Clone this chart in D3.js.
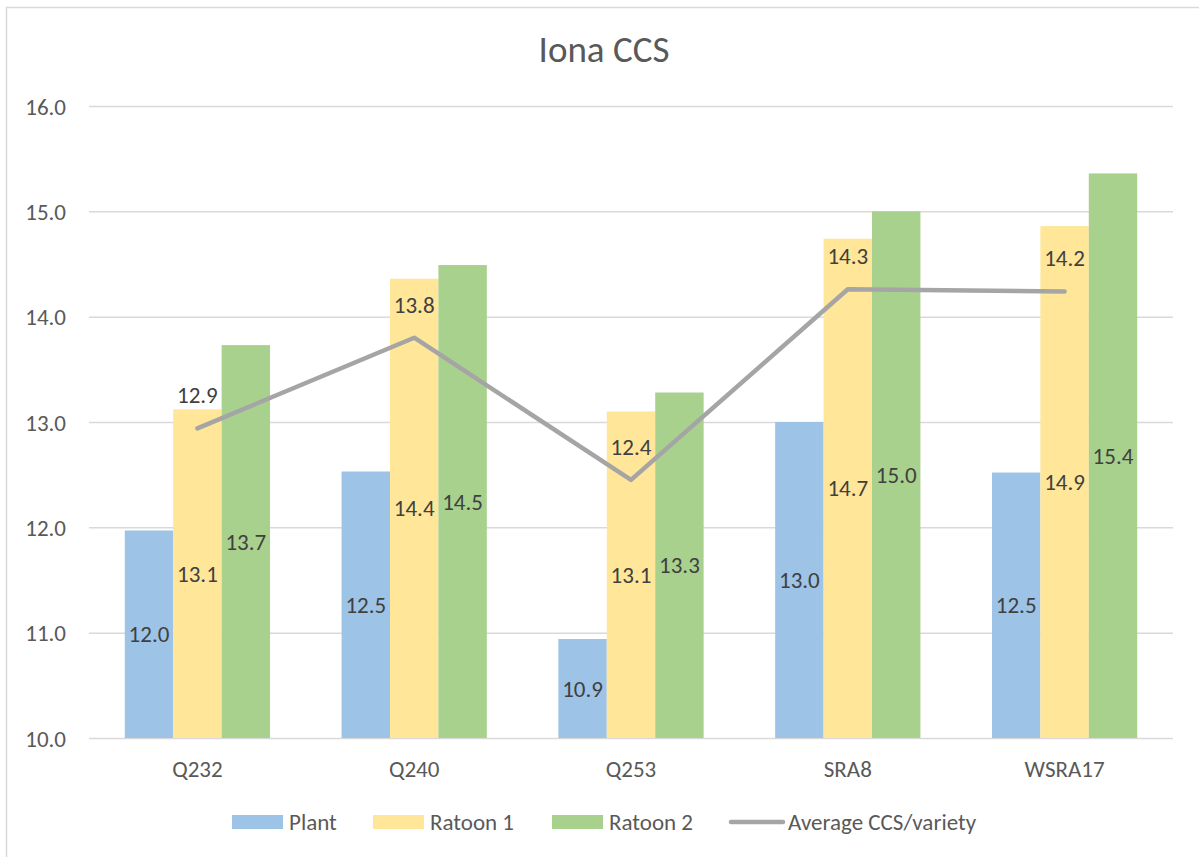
<!DOCTYPE html>
<html>
<head>
<meta charset="utf-8">
<script src="https://cdn.jsdelivr.net/npm/d3@7"></script>
<style>
  body { margin: 0; background: #fff; }
  text { font-family: Carlito, Lato, sans-serif; }
</style>
</head>
<body>
<script>
// data
const varieties = ["Q232", "Q240", "Q253", "SRA8", "WSRA17"];
const seriesNames = ["Plant", "Ratoon 1", "Ratoon 2"];
const plant = [11.97, 12.53, 10.94, 13.0, 12.52];
const ratoon1 = [13.12, 14.36, 13.1, 14.74, 14.86];
const ratoon2 = [13.73, 14.49, 13.28, 15.0, 15.36];
const averageName = "Average CCS/variety";
const average = [12.94, 13.8, 12.45, 14.26, 14.24];
const yTicks = [10, 11, 12, 13, 14, 15, 16];

const colors = ["#9DC3E6", "#FFE699", "#A9D18E"];
const lineColor = "#A5A5A5";

const W = 1199, H = 857;
const margin = { top: 106, right: 26, bottom: 119, left: 89 };
const fs = "23px";

const svg = d3.select("body").append("svg")
  .attr("width", W)
  .attr("height", H);

// chart border
svg.append("rect")
  .attr("x", 6.5).attr("y", 7.5)
  .attr("width", W + 10).attr("height", H + 10)
  .attr("fill", "none")
  .attr("stroke", "#d9d9d9")
  .attr("stroke-width", 1.5);

const x0 = d3.scaleBand()
  .domain(varieties)
  .range([margin.left, W - margin.right])
  .paddingInner(0.33)
  .paddingOuter(0.165);

const x1 = d3.scaleBand()
  .domain(seriesNames)
  .range([0, x0.bandwidth()]);

const y = d3.scaleLinear()
  .domain([10, 16])
  .range([H - margin.bottom, margin.top]);

//title
svg.append("text")
  .attr("x", 604)
  .attr("y", 62)
  .attr("text-anchor", "middle")
  .attr("fill", "#595959")
  .style("font-size", "37px")
  .text("Iona CCS");

//gridlines + y labels
const yAxis = svg.append("g")
  .attr("transform", `translate(${margin.left},0)`)
  .call(d3.axisLeft(y).tickValues(yTicks).tickSize(-(W - margin.left - margin.right)).tickPadding(23).tickFormat(d3.format(".1f")));
yAxis.select(".domain").remove();
yAxis.selectAll("line").attr("stroke", "#d9d9d9").attr("stroke-width", 1.5);
yAxis.selectAll("text")
  .attr("fill", "#595959")
  .style("font-size", fs)
  .attr("dy", "0.35em");

// x axis labels
const xAxis = svg.append("g")
  .attr("transform", `translate(0,${H - margin.bottom})`)
  .call(d3.axisBottom(x0).tickSize(0).tickPadding(0));
xAxis.select(".domain").remove();
xAxis.selectAll("text")
  .attr("fill", "#595959")
  .attr("y", 39)
  .attr("dy", null)
  .style("font-size", fs);

const barSeries = [plant, ratoon1, ratoon2];

const groups = svg.selectAll(".gBar")
  .data(varieties)
  .enter()
  .append("g")
  .attr("class", "gBar")
  .attr("transform", (d) => `translate(${x0(d)},0)`);

groups.selectAll("rect")
  .data((d, i) => seriesNames.map((s, j) => ({ s: s, j: j, v: barSeries[j][i] })))
  .enter()
  .append("rect")
  .attr("x", (d) => x1(d.s))
  .attr("width", x1.bandwidth())
  .attr("y", (d) => y(d.v))
  .attr("height", (d) => y(10) - y(d.v))
  .attr("fill", (d) => colors[d.j]);

// bar labels, centered in bar
groups.selectAll(".lbl")
  .data((d, i) => seriesNames.map((s, j) => ({ s: s, j: j, v: barSeries[j][i] })))
  .enter()
  .append("text")
  .attr("class", "lbl")
  .attr("x", (d) => x1(d.s) + x1.bandwidth() / 2)
  .attr("y", (d) => (y(d.v) + y(10)) / 2)
  .attr("dy", "0.35em")
  .attr("text-anchor", "middle")
  .attr("fill", "#404040")
  .style("font-size", fs)
  .text((d) => d.v.toFixed(1));

// average line
const line = d3.line()
  .x((d, i) => x0(varieties[i]) + x0.bandwidth() / 2)
  .y((d) => y(d));

svg.append("path")
  .datum(average)
  .attr("d", line)
  .attr("fill", "none")
  .attr("stroke", lineColor)
  .attr("stroke-width", 4.5)
  .attr("stroke-linecap", "round")
  .attr("stroke-linejoin", "round");

svg.selectAll(".avgLbl")
  .data(average)
  .enter()
  .append("text")
  .attr("class", "avgLbl")
  .attr("x", (d, i) => x0(varieties[i]) + x0.bandwidth() / 2)
  .attr("y", (d) => y(d) - 33)
  .attr("dy", "0.35em")
  .attr("text-anchor", "middle")
  .attr("fill", "#404040")
  .style("font-size", fs)
  .text((d) => d.toFixed(1));

// legend
const legendItems = [
  { name: seriesNames[0], x: 232, type: "rect", c: colors[0] },
  { name: seriesNames[1], x: 373, type: "rect", c: colors[1] },
  { name: seriesNames[2], x: 552, type: "rect", c: colors[2] },
  { name: averageName, x: 731, type: "line", c: lineColor }
];
const legend = svg.append("g").attr("class", "legend");
legendItems.forEach(function (d) {
  if (d.type === "rect") {
    legend.append("rect")
      .attr("x", d.x).attr("y", 815)
      .attr("width", 51).attr("height", 14)
      .attr("fill", d.c);
  } else {
    legend.append("line")
      .attr("x1", d.x).attr("x2", d.x + 52)
      .attr("y1", 822).attr("y2", 822)
      .attr("stroke", d.c)
      .attr("stroke-width", 4.5)
      .attr("stroke-linecap", "round");
  }
  legend.append("text")
    .attr("x", d.x + 57)
    .attr("y", 822)
    .attr("dy", "0.35em")
    .attr("fill", "#595959")
    .style("font-size", fs)
    .text(d.name);
});
</script>
</body>
</html>
